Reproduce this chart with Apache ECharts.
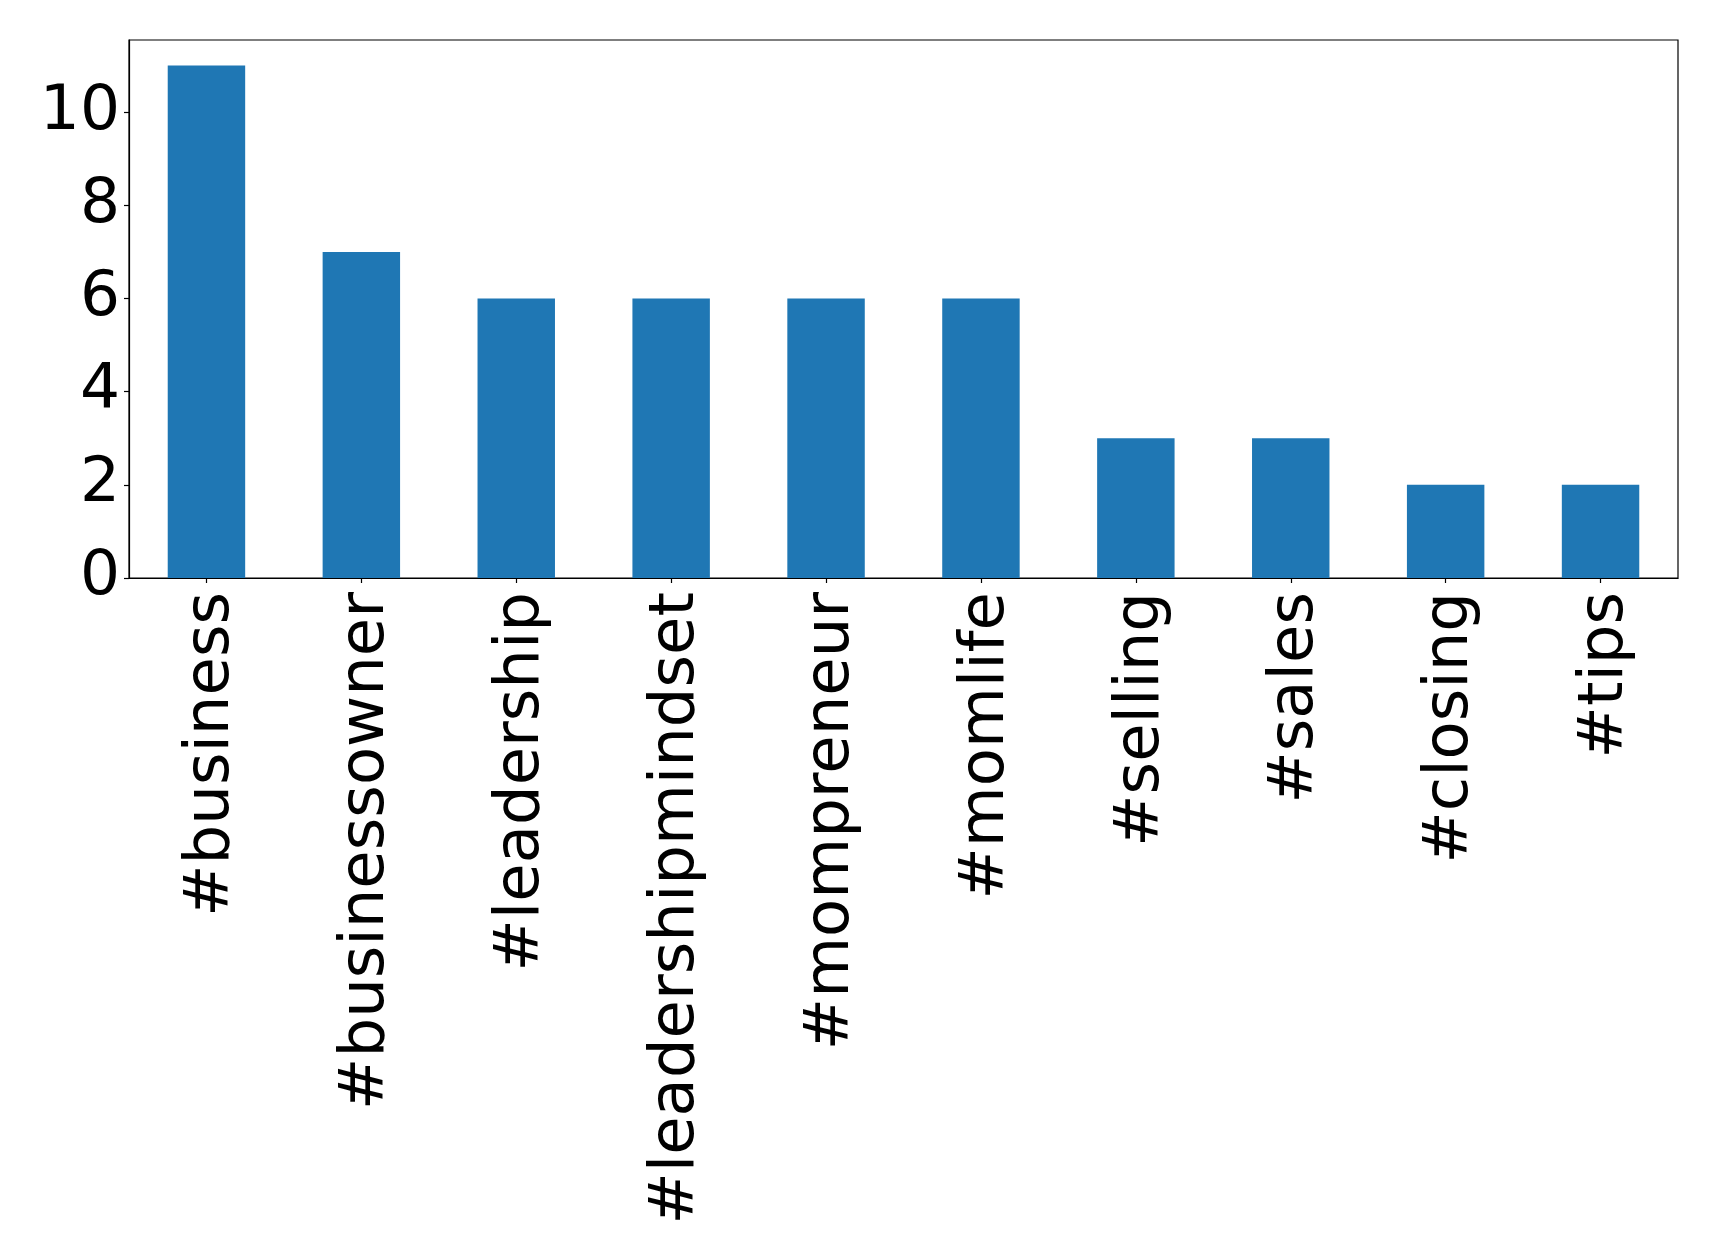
<!DOCTYPE html>
<html>
<head>
<meta charset="utf-8">
<script src="https://cdn.jsdelivr.net/npm/echarts@6/dist/echarts.min.js"></script>
<style>
html,body{margin:0;padding:0;background:#fff;}
#chart{width:1719px;height:1260px;}
</style>
</head>
<body>
<div id="chart"></div>
<script>
const categories = ['#business','#businessowner','#leadership','#leadershipmindset','#mompreneur','#momlife','#selling','#sales','#closing','#tips'];
const counts = [11, 7, 6, 6, 6, 6, 3, 3, 2, 2];
const yTicks = [0, 2, 4, 6, 8, 10];

const chart = echarts.init(document.getElementById('chart'), null, {renderer: 'canvas'});
chart.setOption({
  animation: false,
  backgroundColor: '#ffffff',
  grid: {
    left: 129, right: 41, top: 40, bottom: 682,
    show: true, borderColor: '#000', borderWidth: 1.2, backgroundColor: 'transparent'
  },
  xAxis: {
    type: 'category',
    data: categories,
    boundaryGap: true,
    axisLine: {show: true, lineStyle: {color: '#000', width: 1.2}},
    axisTick: {show: true, alignWithLabel: true, length: 5, lineStyle: {color: '#000', width: 1.2}},
    axisLabel: {
      rotate: 90, interval: 0, margin: 14,
      fontFamily: 'DejaVu Sans', fontSize: 62.5, color: '#000',
      formatter: v => '{t|' + v + '}',
      rich: {
        t: {fontFamily: 'DejaVu Sans', fontSize: 62.5, color: '#000', padding: [11, 0, 0, 0]}
      }
    },
    splitLine: {show: false}
  },
  yAxis: {
    type: 'value',
    min: 0, max: 11.55, interval: 2,
    axisLine: {show: true, lineStyle: {color: '#000', width: 1.2}},
    axisTick: {show: true, length: 5, customValues: yTicks, lineStyle: {color: '#000', width: 1.2}},
    axisLabel: {
      margin: 9, fontFamily: 'DejaVu Sans', fontSize: 63, color: '#000',
      customValues: yTicks
    },
    splitLine: {show: false}
  },
  series: [{
    type: 'bar',
    data: counts,
    barWidth: '50%',
    itemStyle: {color: '#1f77b4'}
  }]
});
</script>
</body>
</html>
